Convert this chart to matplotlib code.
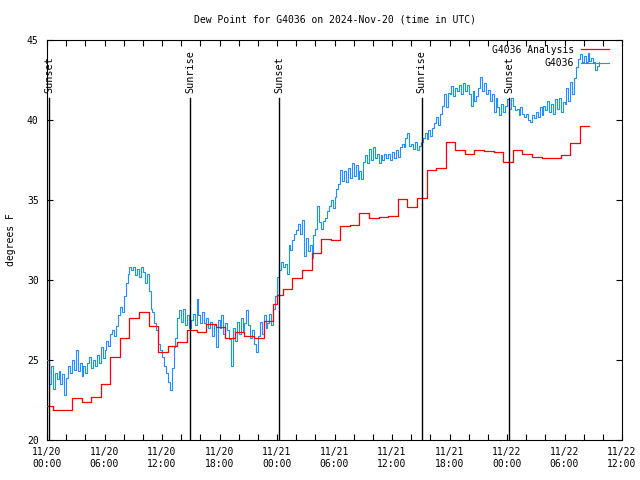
import numpy as np
import matplotlib
matplotlib.use("Agg")
import matplotlib.pyplot as plt
from matplotlib.ticker import MultipleLocator, FixedLocator

plt.rcParams['font.family'] = ['DejaVu Sans Mono']

title = "Dew Point for G4036 on 2024-Nov-20 (time in UTC)"
ylabel = "degrees F"

# x tick labels (hours since 11/20 00:00 UTC)
tick_hours = [0, 6, 12, 18, 24, 30, 36, 42, 48, 54, 60]
tick_labels = ["11/20\n00:00", "11/20\n06:00", "11/20\n12:00", "11/20\n18:00",
               "11/21\n00:00", "11/21\n06:00", "11/21\n12:00", "11/21\n18:00",
               "11/22\n00:00", "11/22\n06:00", "11/22\n12:00"]

# sunrise / sunset (hours)
sun_hours = [0.2, 14.97, 24.2, 39.1, 48.2]
sun_labels = ["Sunset", "Sunrise", "Sunset", "Sunrise", "Sunset"]

# analysis (red) step start times and values
red_start = [0.0, 0.6, 1.6, 2.6, 3.6, 4.6, 5.6, 6.6, 7.6, 8.6, 9.6, 10.6, 11.6,
             12.6, 13.6, 14.6, 15.6, 16.6, 17.6, 18.6, 19.6, 20.6, 21.6, 22.6,
             23.6, 24.0, 24.6, 25.6, 26.6, 27.6, 28.6, 29.6, 30.6, 31.6, 32.6,
             33.6, 34.6, 35.6, 36.6, 37.6, 38.6, 39.6, 40.6, 41.6, 42.6, 43.6,
             44.6, 45.6, 46.6, 47.6, 48.6, 49.6, 50.6, 51.6, 52.6, 53.6, 54.6,
             55.6, 56.6]
red_vals = [22.1, 21.9, 21.9, 22.6, 22.4, 22.7, 23.5, 25.2, 26.35, 27.6, 28.0,
            27.1, 25.5, 25.9, 26.1, 26.85, 26.75, 27.25, 27.05, 26.35, 26.75,
            26.5, 26.4, 27.45, 28.5, 29.05, 29.42, 30.1, 30.6, 31.67, 32.56,
            32.5, 33.38, 33.42, 34.17, 33.86, 33.92, 34.0, 35.04, 34.54, 35.1,
            36.85, 37.0, 38.6, 38.1, 37.85, 38.1, 38.05, 38.0, 37.35, 38.15,
            37.85, 37.7, 37.65, 37.65, 37.8, 38.55, 39.6, 39.6]

# observations (blue), every 0.2 h starting 11/20 00:00
blue_vals = [
    25.0, 23.5, 24.6, 23.2, 24.2,
    23.8, 24.3, 23.5, 24.1, 22.8,
    23.9, 24.6, 24.2, 25.0, 24.4,
    25.6, 24.3, 24.8, 24.0, 24.6,
    24.2, 24.8, 25.2, 24.5, 25.0,
    24.6, 25.3, 24.8, 25.8, 25.1,
    25.6, 26.2, 25.9, 26.6, 26.9,
    26.5, 27.1, 27.8, 28.3, 28.0,
    29.0, 29.8, 30.4, 30.8, 30.6,
    30.8, 30.3, 30.7, 30.2, 30.8,
    30.5, 29.8, 30.4, 29.3, 28.2,
    28.0, 27.3, 26.9, 26.0, 25.6,
    25.2, 24.6, 24.2, 23.6, 23.1,
    24.5, 25.8, 26.4, 27.6, 28.1,
    27.4, 28.2, 27.2, 27.8, 27.0,
    27.5, 27.9, 27.2, 28.8, 27.8,
    27.3, 28.0, 27.3, 27.6, 27.0,
    27.4, 26.5, 27.2, 25.8, 27.5,
    27.0, 27.8, 26.6, 27.3, 26.9,
    26.3, 24.6, 27.0, 26.2, 27.4,
    26.6, 27.6, 26.8, 27.3, 28.1,
    27.2, 26.4, 26.9, 26.0, 25.5,
    26.5, 27.4, 26.6, 27.8, 27.0,
    27.3, 27.9, 27.2, 28.2, 29.0,
    30.2, 30.6, 31.1, 30.8, 31.0,
    30.4, 32.2, 31.9, 32.5, 32.9,
    33.1, 33.5, 32.9, 33.75, 31.5,
    32.6, 31.8, 32.2, 31.4, 32.8,
    33.2, 34.6, 33.6, 33.2, 33.7,
    33.9, 34.3, 34.6, 35.0, 34.5,
    35.2, 35.7, 36.0, 36.9, 36.2,
    36.8, 36.1, 37.0, 36.4, 37.3,
    36.5, 37.2, 36.3, 36.8, 36.3,
    37.4, 37.8, 37.3, 38.2, 37.5,
    38.3, 37.6, 37.9, 37.3, 37.8,
    37.5, 37.9, 37.6, 37.9, 37.5,
    38.0, 37.6, 38.1, 37.7, 38.3,
    38.5, 38.3, 38.9, 39.2, 38.4,
    38.5, 38.2, 38.6, 38.1, 38.4,
    38.6, 38.9, 39.2, 38.8, 39.4,
    39.0, 39.5, 39.8, 40.2, 39.7,
    40.4, 40.9, 41.6, 40.8, 41.7,
    41.6, 42.1, 41.5, 42.0, 41.8,
    42.2, 41.6, 42.3, 41.8, 42.2,
    41.6, 40.9, 41.8, 41.2, 41.5,
    42.0, 42.7, 41.8, 42.3, 41.6,
    41.9, 41.2, 41.6, 40.5, 41.4,
    40.8, 40.3, 41.0, 40.5, 40.9,
    41.3, 40.7, 41.4, 40.9, 40.6,
    40.7, 40.3, 40.8, 40.4, 40.2,
    40.4, 40.0, 39.9, 40.3, 40.1,
    40.5, 40.2, 40.8, 40.3, 40.9,
    40.6, 41.2, 40.5, 41.0, 40.4,
    41.3, 40.7, 41.4, 40.5, 41.1,
    41.0, 42.0, 41.2, 42.4, 41.6,
    42.6, 43.3, 43.8, 44.1, 43.6,
    44.0, 43.6, 44.2, 43.7, 43.9,
    43.6, 43.1, 43.4, 43.6,
]
blue_step_h = 0.2
blue_t = np.arange(len(blue_vals)) * blue_step_h

RED = "#ff0000"
BLUE = "#1e90ff"

fig = plt.figure(figsize=(6.4, 4.8), dpi=100)
ax = fig.add_axes([47/640, 40/480, 575/640, 400/480])

ax.step(blue_t, blue_vals, where="post", color=BLUE, lw=0.8, label="G4036", zorder=3)
ax.step(red_start, red_vals, where="post", color=RED, lw=0.9,
        label="G4036 Analysis", zorder=4)

line_top = (440 - 98) / 400
for h, lab in zip(sun_hours, sun_labels):
    ax.axvline(h, ymin=0, ymax=line_top, color="black", lw=1.0, zorder=5)
    ax.text(h, line_top + 0.012, lab, rotation=90, ha="center", va="bottom",
            transform=ax.get_xaxis_transform(), fontsize=7.3)

ax.set_xlim(0, 60)
ax.set_ylim(20, 45)
ax.xaxis.set_major_locator(FixedLocator(tick_hours))
ax.set_xticklabels(tick_labels)
ax.xaxis.set_minor_locator(MultipleLocator(2))
ax.yaxis.set_major_locator(MultipleLocator(5))
ax.tick_params(axis="both", which="both", direction="in", top=True, right=True,
               length=4, width=0.8, labelsize=7)
ax.tick_params(axis="x", which="major", pad=5)
ax.tick_params(axis="y", which="major", pad=6)
for s in ax.spines.values():
    s.set_linewidth(0.8)

ax.set_ylabel(ylabel, fontsize=7)
ax.yaxis.set_label_coords(-(47 - 16) / 575, 0.5)

fig.text(334.5/640, 1 - 20/480, title, ha="center", va="center", fontsize=7)

handles, labels = ax.get_legend_handles_labels()
ax.legend(handles[::-1], labels[::-1], loc="upper right",
          bbox_to_anchor=(1 - 8/575, 1), frameon=False,
          markerfirst=False, fontsize=7, handlelength=2.9, handletextpad=0.7,
          labelspacing=0.35, borderaxespad=0.3, borderpad=0.2)

fig.savefig("out.png", dpi=100)
